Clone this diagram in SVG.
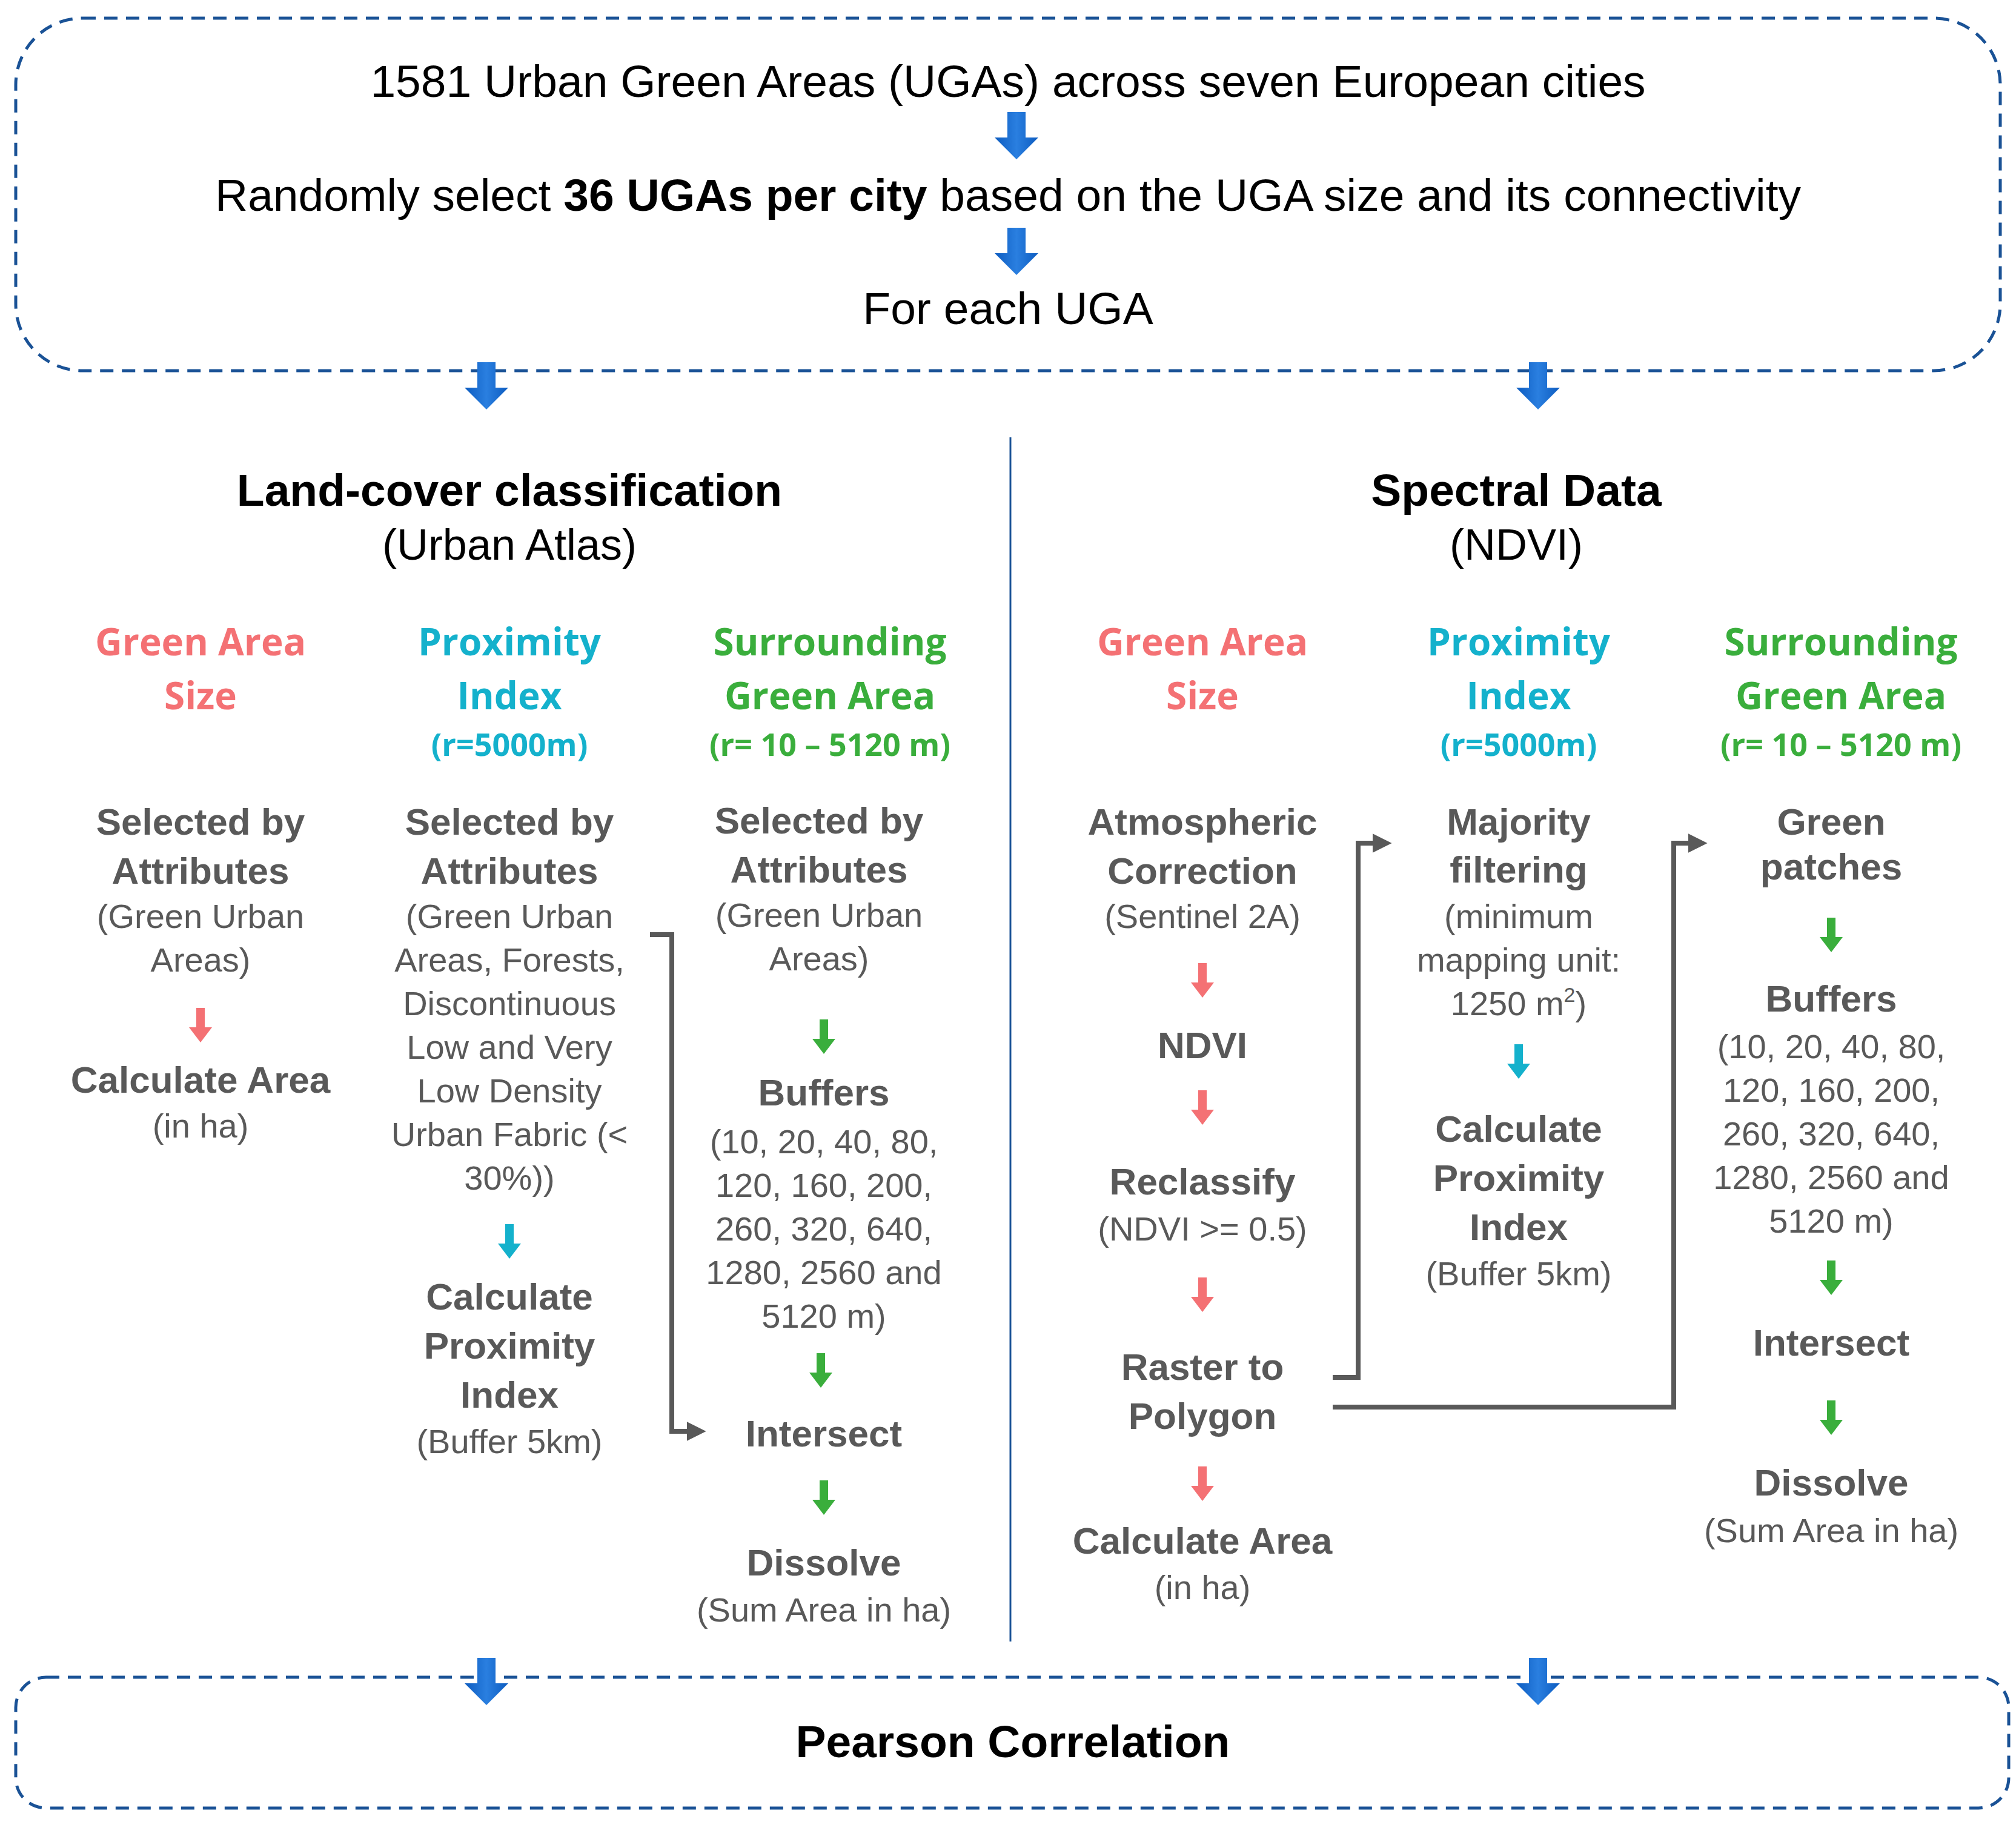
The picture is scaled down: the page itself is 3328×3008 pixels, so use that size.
<svg xmlns="http://www.w3.org/2000/svg" width="3328" height="3008" viewBox="0 0 3328 3008">
<style>
.t{font-family:"Liberation Sans",Arial,sans-serif;text-anchor:middle}
.top{font-size:75px;fill:#000}
.hd{font-size:75px;font-weight:bold;fill:#000}
.sub{font-size:72px;fill:#000}
.ch{font-family:"Open Sans",Lato,sans-serif;font-weight:bold;font-size:62px;text-anchor:middle}
.cs{font-size:52px}
.pink{fill:#f47174}.cyan{fill:#14b1cc}.green{fill:#3aae3c}
.b{font-size:62px;font-weight:bold;fill:#595959}
.n{font-size:56px;fill:#595959}
.box{fill:none;stroke:#1a5296;stroke-width:5;stroke-dasharray:22 14}
.con{fill:none;stroke:#595959;stroke-width:8}
</style>
<defs>
<linearGradient id="bg" x1="0" y1="0" x2="1" y2="0">
<stop offset="0" stop-color="#0d5cc0"/><stop offset="0.5" stop-color="#2a7fe0"/><stop offset="1" stop-color="#0d5cc0"/>
</linearGradient>
<path id="ba" d="M-15 0H15V42H36L0 78L-36 42H-15Z" fill="url(#bg)"/>
<path id="sa" d="M-7 0H7V32H19L0 57L-19 32H-7Z"/>
<marker id="ah" viewBox="0 0 10 10" refX="2" refY="5" markerWidth="4" markerHeight="5" orient="auto" markerUnits="strokeWidth"><path d="M0 0L10 5L0 10Z" fill="#595959"/></marker>
</defs>

<g id="top-box">
<rect class="box" x="26" y="30" width="3276" height="582" rx="110"/>
<text class="t top" x="1664" y="160">1581 Urban Green Areas (UGAs) across seven European cities</text>
<use href="#ba" x="1678" y="185"/>
<text class="t top" x="1664" y="348">Randomly select <tspan font-weight="bold">36 UGAs per city</tspan> based on the UGA size and its connectivity</text>
<use href="#ba" x="1678" y="376"/>
<text class="t top" x="1664" y="535">For each UGA</text>
</g>

<g id="arrows-main">
<use href="#ba" x="803" y="598"/>
<use href="#ba" x="2539" y="598"/>
</g>

<line x1="1668" y1="722" x2="1668" y2="2710" stroke="#1a5296" stroke-width="3"/>

<g id="left-head">
<text class="t hd" x="841" y="835">Land-cover classification</text>
<text class="t sub" x="841" y="924">(Urban Atlas)</text>
</g>
<g id="right-head">
<text class="t hd" x="2503" y="835">Spectral Data</text>
<text class="t sub" x="2503" y="924">(NDVI)</text>
</g>

<g id="l-col1">
<text class="ch pink" x="331" y="1082">Green Area</text>
<text class="ch pink" x="331" y="1171">Size</text>
<text class="t b" x="331" y="1378">Selected by</text>
<text class="t b" x="331" y="1459">Attributes</text>
<text class="t n" x="331" y="1532">(Green Urban</text>
<text class="t n" x="331" y="1604">Areas)</text>
<use href="#sa" x="331" y="1664" class="pink"/>
<text class="t b" x="331" y="1804">Calculate Area</text>
<text class="t n" x="331" y="1878">(in ha)</text>
</g>

<g id="l-col2">
<text class="ch cyan" x="841" y="1082">Proximity</text>
<text class="ch cyan" x="841" y="1171">Index</text>
<text class="ch cyan cs" x="841" y="1248">(r=5000m)</text>
<text class="t b" x="841" y="1378">Selected by</text>
<text class="t b" x="841" y="1459">Attributes</text>
<text class="t n" x="841" y="1532">(Green Urban</text>
<text class="t n" x="841" y="1604">Areas, Forests,</text>
<text class="t n" x="841" y="1676">Discontinuous</text>
<text class="t n" x="841" y="1748">Low and Very</text>
<text class="t n" x="841" y="1820">Low Density</text>
<text class="t n" x="841" y="1892">Urban Fabric (&lt;</text>
<text class="t n" x="841" y="1964">30%))</text>
<use href="#sa" x="841" y="2021" class="cyan"/>
<text class="t b" x="841" y="2162">Calculate</text>
<text class="t b" x="841" y="2243">Proximity</text>
<text class="t b" x="841" y="2324">Index</text>
<text class="t n" x="841" y="2399">(Buffer 5km)</text>
</g>

<g id="l-col3">
<text class="ch green" x="1370" y="1082">Surrounding</text>
<text class="ch green" x="1370" y="1171">Green Area</text>
<text class="ch green cs" x="1370" y="1248">(r= 10 – 5120 m)</text>
<text class="t b" x="1352" y="1376">Selected by</text>
<text class="t b" x="1352" y="1457">Attributes</text>
<text class="t n" x="1352" y="1530">(Green Urban</text>
<text class="t n" x="1352" y="1602">Areas)</text>
<use href="#sa" x="1360" y="1683" class="green"/>
<text class="t b" x="1360" y="1825">Buffers</text>
<text class="t n" x="1360" y="1904">(10, 20, 40, 80,</text>
<text class="t n" x="1360" y="1976">120, 160, 200,</text>
<text class="t n" x="1360" y="2048">260, 320, 640,</text>
<text class="t n" x="1360" y="2120">1280, 2560 and</text>
<text class="t n" x="1360" y="2192">5120 m)</text>
<use href="#sa" x="1355" y="2234" class="green"/>
<text class="t b" x="1360" y="2388">Intersect</text>
<use href="#sa" x="1360" y="2444" class="green"/>
<text class="t b" x="1360" y="2601">Dissolve</text>
<text class="t n" x="1360" y="2677">(Sum Area in ha)</text>
</g>

<g id="r-col1">
<text class="ch pink" x="1985" y="1082">Green Area</text>
<text class="ch pink" x="1985" y="1171">Size</text>
<text class="t b" x="1985" y="1378">Atmospheric</text>
<text class="t b" x="1985" y="1459">Correction</text>
<text class="t n" x="1985" y="1532">(Sentinel 2A)</text>
<use href="#sa" x="1985" y="1590" class="pink"/>
<text class="t b" x="1985" y="1747">NDVI</text>
<use href="#sa" x="1985" y="1800" class="pink"/>
<text class="t b" x="1985" y="1972">Reclassify</text>
<text class="t n" x="1985" y="2048">(NDVI &gt;= 0.5)</text>
<use href="#sa" x="1985" y="2109" class="pink"/>
<text class="t b" x="1985" y="2278">Raster to</text>
<text class="t b" x="1985" y="2359">Polygon</text>
<use href="#sa" x="1985" y="2421" class="pink"/>
<text class="t b" x="1985" y="2565">Calculate Area</text>
<text class="t n" x="1985" y="2640">(in ha)</text>
</g>

<g id="r-col2">
<text class="ch cyan" x="2507" y="1082">Proximity</text>
<text class="ch cyan" x="2507" y="1171">Index</text>
<text class="ch cyan cs" x="2507" y="1248">(r=5000m)</text>
<text class="t b" x="2507" y="1378">Majority</text>
<text class="t b" x="2507" y="1457">filtering</text>
<text class="t n" x="2507" y="1532">(minimum</text>
<text class="t n" x="2507" y="1604">mapping unit:</text>
<text class="t n" x="2507" y="1676">1250 m<tspan font-size="34" dy="-22">2</tspan><tspan dy="22">)</tspan></text>
<use href="#sa" x="2507" y="1724" class="cyan"/>
<text class="t b" x="2507" y="1885">Calculate</text>
<text class="t b" x="2507" y="1966">Proximity</text>
<text class="t b" x="2507" y="2047">Index</text>
<text class="t n" x="2507" y="2122">(Buffer 5km)</text>
</g>

<g id="r-col3">
<text class="ch green" x="3039" y="1082">Surrounding</text>
<text class="ch green" x="3039" y="1171">Green Area</text>
<text class="ch green cs" x="3039" y="1248">(r= 10 – 5120 m)</text>
<text class="t b" x="3023" y="1378">Green</text>
<text class="t b" x="3023" y="1452">patches</text>
<use href="#sa" x="3023" y="1515" class="green"/>
<text class="t b" x="3023" y="1670">Buffers</text>
<text class="t n" x="3023" y="1747">(10, 20, 40, 80,</text>
<text class="t n" x="3023" y="1819">120, 160, 200,</text>
<text class="t n" x="3023" y="1891">260, 320, 640,</text>
<text class="t n" x="3023" y="1963">1280, 2560 and</text>
<text class="t n" x="3023" y="2035">5120 m)</text>
<use href="#sa" x="3023" y="2081" class="green"/>
<text class="t b" x="3023" y="2238">Intersect</text>
<use href="#sa" x="3023" y="2312" class="green"/>
<text class="t b" x="3023" y="2469">Dissolve</text>
<text class="t n" x="3023" y="2546">(Sum Area in ha)</text>
</g>

<g id="connectors">
<path class="con" d="M1073 1543H1109V2363H1140" marker-end="url(#ah)"/>
<path class="con" d="M2200 2274H2242V1392H2272" marker-end="url(#ah)"/>
<path class="con" d="M2200 2323H2763V1392H2793" marker-end="url(#ah)"/>
</g>

<g id="bottom-box">
<rect class="box" x="26" y="2769" width="3290" height="216" rx="50"/>
<use href="#ba" x="803" y="2737"/>
<use href="#ba" x="2539" y="2737"/>
<text class="t hd" x="1672" y="2901">Pearson Correlation</text>
</g>
</svg>
